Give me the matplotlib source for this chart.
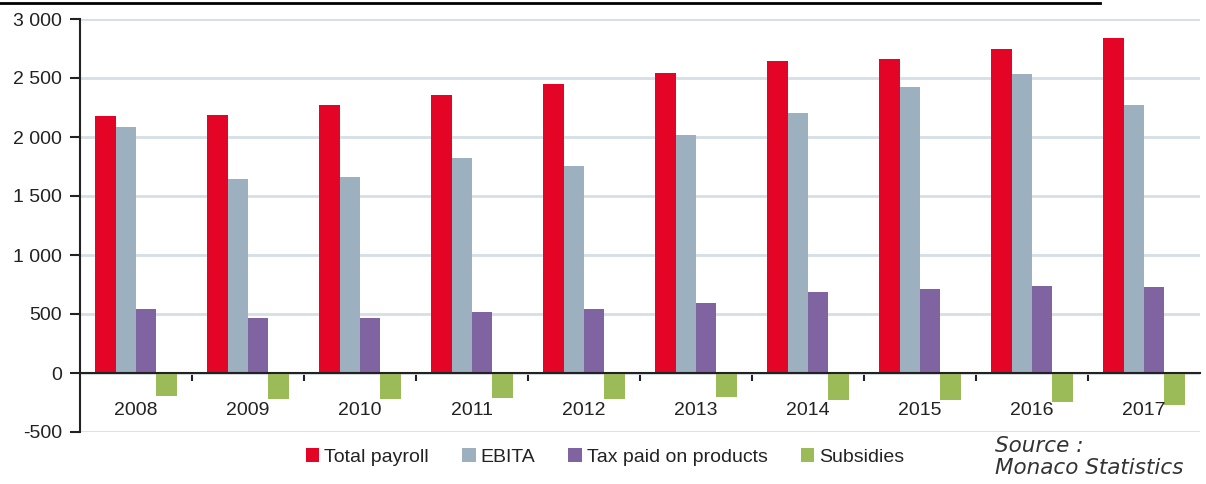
import matplotlib
matplotlib.use("Agg")
import matplotlib.pyplot as plt
import numpy as np
from matplotlib.patches import Patch
from matplotlib.lines import Line2D

plt.rcParams['font.family'] = ['Liberation Sans', 'DejaVu Sans']

years = ["2008", "2009", "2010", "2011", "2012", "2013", "2014", "2015", "2016", "2017"]
total_payroll = [2176, 2188, 2267, 2358, 2452, 2546, 2648, 2665, 2742, 2835]
ebita = [2082, 1648, 1662, 1821, 1753, 2017, 2202, 2426, 2531, 2267]
tax_products = [540, 463, 463, 514, 540, 594, 688, 713, 741, 727]
subsidies = [-193, -218, -218, -216, -218, -207, -233, -233, -247, -273]
series_names = ["Total payroll", "EBITA", "Tax paid on products", "Subsidies"]
colors = ["#e30426", "#9cb0c0", "#8064a2", "#9bbb59"]
yticks = [-500, 0, 500, 1000, 1500, 2000, 2500, 3000]

fig = plt.figure(figsize=(12.06, 4.84), dpi=100)
ax = fig.add_axes([80/1206, 1-432/484, 1120/1206, (432-19)/484])

x = np.arange(len(years))
w = 0.183
series = [total_payroll, ebita, tax_products, subsidies]
for k, (vals, c) in enumerate(zip(series, colors)):
    ax.bar(x + (k - 1.5) * w, vals, width=w, color=c, edgecolor='none', zorder=3)

ax.set_xlim(-0.5, len(years) - 0.5)
ax.set_ylim(-500, 3000)
ax.set_yticks(yticks)
ax.set_yticklabels([f"{v:,}".replace(",", " ") for v in yticks])
ax.yaxis.grid(True, color="#d5dfe7", linewidth=2, zorder=0)
ax.set_axisbelow(True)

for s in ['top', 'right']:
    ax.spines[s].set_visible(False)
ax.spines['left'].set_color('#222222')
ax.spines['left'].set_linewidth(1.5)
ax.spines['bottom'].set_position(('data', 0))
ax.spines['bottom'].set_color('#222222')
ax.spines['bottom'].set_linewidth(1.5)
ax.spines['bottom'].set_zorder(4)

ax.set_xticks(x[:-1] + 0.5)
ax.set_xticklabels([])
ax.tick_params(axis='x', direction='out', length=6, width=1.5, color='#222222')
ax.tick_params(axis='y', direction='out', length=7, width=1.5, color='#222222',
               labelsize=14, labelcolor='#222222', pad=6)

for i, yr in enumerate(years):
    ax.text(i, -315, yr, ha='center', va='center', fontsize=14, color='#222222')

handles = [Patch(facecolor=c, edgecolor='none') for c in colors]
fig.legend(handles, series_names, loc='center', bbox_to_anchor=(605/1206, 1-457/484),
           ncol=4, frameon=False, fontsize=14, handlelength=0.7, handleheight=0.7,
           handletextpad=0.25, columnspacing=1.7, labelcolor='#222222')

fig.text(995/1206, 1-457/484, "Source :\nMonaco Statistics", ha='left', va='center',
         style='italic', fontsize=15.5, color='#333333', linespacing=1.1,
         family='DejaVu Sans')

fig.add_artist(Line2D([0, 1100/1206], [1-3/484, 1-3/484], color='black', linewidth=2))

fig.savefig("out.png", dpi=100)
